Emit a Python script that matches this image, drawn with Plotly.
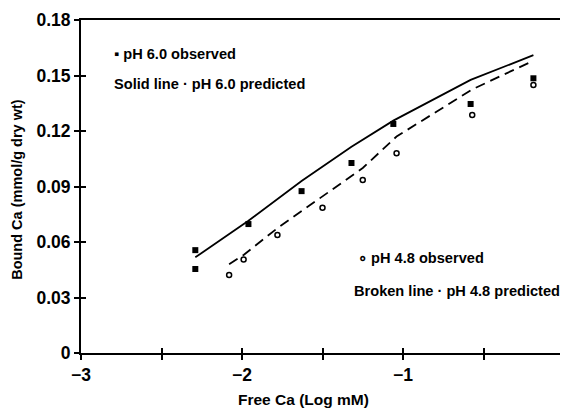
import plotly.graph_objects as go

# pH 6.0 observed
x_obs60 = [-2.29, -2.29, -1.96, -1.63, -1.32, -1.06, -0.58, -0.19]
y_obs60 = [0.0556, 0.0454, 0.0697, 0.0875, 0.1027, 0.1238, 0.1346, 0.1485]
# pH 6.0 predicted (solid)
x_pred60 = [-2.29, -1.96, -1.63, -1.32, -1.06, -0.58, -0.19]
y_pred60 = [0.0517, 0.0715, 0.0930, 0.1115, 0.1256, 0.1476, 0.1610]
# pH 4.8 observed
x_obs48 = [-2.08, -1.99, -1.78, -1.50, -1.25, -1.04, -0.57, -0.19]
y_obs48 = [0.0421, 0.0506, 0.0638, 0.0785, 0.0935, 0.1080, 0.1286, 0.1449]
# pH 4.8 predicted (broken)
x_pred48 = [-2.08, -1.99, -1.78, -1.50, -1.25, -1.04, -0.57, -0.19]
y_pred48 = [0.0480, 0.0530, 0.0675, 0.0845, 0.1000, 0.1170, 0.1425, 0.1580]

x_tickvals = [-3, -2.5, -2, -1.5, -1, -0.5, 0]
x_ticktext = ["<b>\u22123</b>", "", "<b>\u22122</b>", "", "<b>\u22121</b>", "", "<b>0</b>"]
y_tickvals = [0, 0.03, 0.06, 0.09, 0.12, 0.15, 0.18]
y_ticktext = ["<b>0</b>", "<b>0.03</b>", "<b>0.06</b>", "<b>0.09</b>", "<b>0.12</b>",
              "<b>0.15</b>", "<b>0.18</b>"]

FONT = "Liberation Sans, Arial, sans-serif"

fig = go.Figure()
fig.add_trace(go.Scatter(x=x_pred60, y=y_pred60, mode="lines",
                         line=dict(color="black", width=1.8), showlegend=False))
fig.add_trace(go.Scatter(x=x_pred48, y=y_pred48, mode="lines",
                         line=dict(color="black", width=1.8, dash="10px,6px"), showlegend=False))
fig.add_trace(go.Scatter(x=x_obs60, y=y_obs60, mode="markers",
                         marker=dict(symbol="square", size=6, color="black"), showlegend=False))
fig.add_trace(go.Scatter(x=x_obs48, y=y_obs48, mode="markers",
                         marker=dict(symbol="circle-open", size=5, color="black",
                                     line=dict(width=1.5, color="black")), showlegend=False))
# invisible trace to host the overlay axes used for inward tick halves
fig.add_trace(go.Scatter(x=[-3, 0], y=[0, 0.18], xaxis="x2", yaxis="y2", mode="markers",
                         marker=dict(opacity=0), showlegend=False, hoverinfo="skip"))

axis_common = dict(showgrid=False, zeroline=False, showline=True, linecolor="black",
                   linewidth=2, ticks="outside", ticklen=5, tickwidth=1.5, tickcolor="black",
                   mirror=True, automargin=False)

# the page body has an 8px margin, so the figure is sized to fit the window
fig.update_layout(
    width=560, height=401,
    margin=dict(l=73, r=4, t=12, b=56),
    plot_bgcolor="white", paper_bgcolor="white",
    font=dict(family=FONT, color="black", size=16),
    xaxis=dict(range=[-3, 0], tickvals=x_tickvals, ticktext=x_ticktext,
               tickfont=dict(size=17.5), title=dict(text=""),
               **axis_common),
    yaxis=dict(range=[0, 0.18], tickvals=y_tickvals, ticktext=y_ticktext,
               tickfont=dict(size=17.5), title=dict(text=""),
               **axis_common),
    xaxis2=dict(range=[-3, 0], overlaying="x", anchor="y2", side="bottom", tickvals=x_tickvals,
                showticklabels=False, ticks="inside", ticklen=5, tickwidth=1.5, tickcolor="black",
                showline=False, showgrid=False, zeroline=False, automargin=False),
    yaxis2=dict(range=[0, 0.18], overlaying="y", anchor="x2", side="left", tickvals=y_tickvals,
                showticklabels=False, ticks="inside", ticklen=5, tickwidth=1.5, tickcolor="black",
                showline=False, showgrid=False, zeroline=False, automargin=False),
)

# axis titles
fig.add_annotation(text="<b>Free Ca (Log mM)</b>", xref="paper", yref="paper", x=0.46, y=-0.141,
                   yanchor="middle", xanchor="center", showarrow=False,
                   font=dict(family=FONT, size=15.5, color="black"))
fig.add_annotation(text="<b>Bound Ca (mmol/g dry wt)</b>", xref="paper", yref="paper", x=-0.1325, y=0.49,
                   xanchor="center", yanchor="middle", textangle=-90, showarrow=False,
                   font=dict(family=FONT, size=14.5, color="black"))

ann_font = dict(family=FONT, size=14.6, color="black")
annotations = [
    ("<b>\u25aa pH 6.0 observed</b>", -2.807, 0.1616),
    ("<b>Solid line \u00b7 pH 6.0 predicted</b>", -2.807, 0.1454),
    ("<b>\u2218 pH 4.8 observed</b>", -1.292, 0.0514),
    ("<b>Broken line \u00b7 pH 4.8 predicted</b>", -1.317, 0.0335),
]
for txt, ax, ay in annotations:
    fig.add_annotation(x=ax, y=ay, text=txt, showarrow=False, xanchor="left",
                       yanchor="middle", font=ann_font)

fig.write_html("out.html")
